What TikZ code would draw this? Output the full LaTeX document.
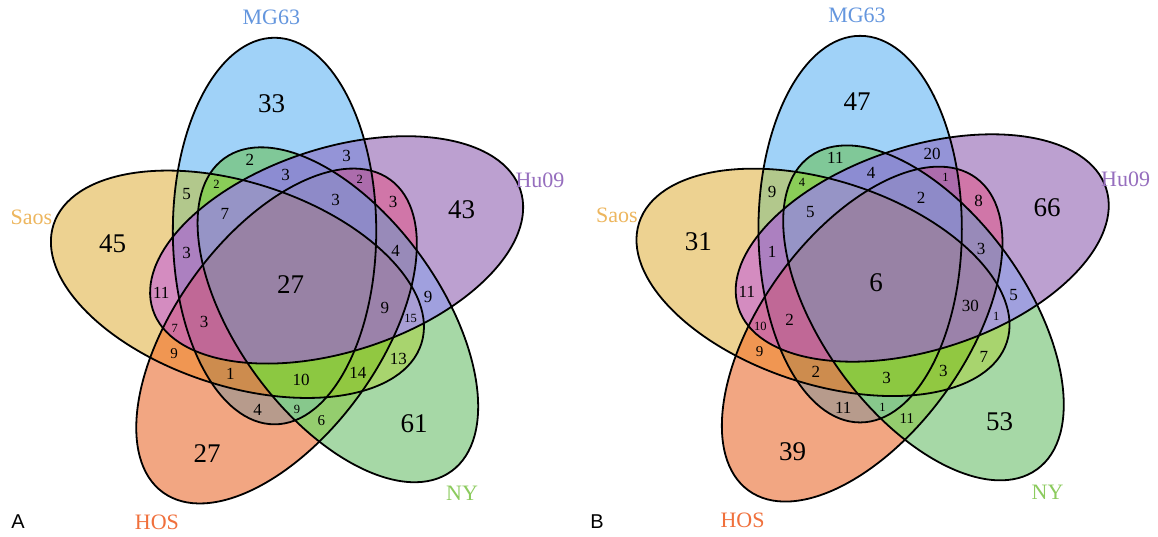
\documentclass[tikz,border=0pt]{standalone}
\usepackage{fontspec}
\setmainfont{Liberation Serif}
\newfontfamily\panelfont{Liberation Sans}
% label colours
\definecolor{tMG}{RGB}{100,150,222}
\definecolor{tSa}{RGB}{237,182,94}
\definecolor{tHu}{RGB}{150,110,190}
\definecolor{tHO}{RGB}{240,112,60}
\definecolor{tNY}{RGB}{140,203,94}
% region colours (M=MG63, S=Saos, U=Hu09, H=HOS, N=NY)
\definecolor{rM}{RGB}{160,210,248}
\definecolor{rS}{RGB}{237,210,145}
\definecolor{rU}{RGB}{188,160,208}
\definecolor{rH}{RGB}{242,166,130}
\definecolor{rN}{RGB}{166,216,166}
\definecolor{rMN}{RGB}{128,200,152}
\definecolor{rMU}{RGB}{148,148,215}
\definecolor{rMS}{RGB}{178,200,140}
\definecolor{rHU}{RGB}{208,118,168}
\definecolor{rSU}{RGB}{212,140,192}
\definecolor{rNU}{RGB}{160,160,222}
\definecolor{rSH}{RGB}{240,150,82}
\definecolor{rSN}{RGB}{168,212,110}
\definecolor{rMH}{RGB}{183,155,140}
\definecolor{rHN}{RGB}{148,205,110}
\definecolor{rMSN}{RGB}{138,205,88}
\definecolor{rMNU}{RGB}{140,140,210}
\definecolor{rMHU}{RGB}{172,108,172}
\definecolor{rHNU}{RGB}{152,138,185}
\definecolor{rMSU}{RGB}{172,128,192}
\definecolor{rSNU}{RGB}{168,158,212}
\definecolor{rSHU}{RGB}{208,112,158}
\definecolor{rMSH}{RGB}{205,140,78}
\definecolor{rSHN}{RGB}{145,200,65}
\definecolor{rMHN}{RGB}{135,200,140}
\definecolor{rMSNU}{RGB}{150,148,198}
\definecolor{rMHNU}{RGB}{142,138,200}
\definecolor{rSHNU}{RGB}{155,130,170}
\definecolor{rMSHU}{RGB}{192,104,150}
\definecolor{rMSHN}{RGB}{140,200,65}
\definecolor{rAll}{RGB}{152,130,165}
\tikzset{
  setline/.style={draw=black, line width=1.8pt, fill=none},
  big/.style={font=\fontsize{27}{27}\selectfont, inner sep=0pt},
  med/.style={font=\fontsize{17}{17}\selectfont, inner sep=0pt},
  msm/.style={font=\fontsize{15}{15}\selectfont, inner sep=0pt},
  sml/.style={font=\fontsize{12.5}{12.5}\selectfont, inner sep=0pt},
  setlabel/.style={font=\fontsize{22}{22}\selectfont, inner sep=0pt, text=#1},
  panellabel/.style={font=\panelfont\fontsize{20}{20}\selectfont, inner sep=0pt, text=black},
}
% the five ellipses, relative to a panel centre
\def\eM{(109.1:55.2) circle [x radius=193.3, y radius=101.7, rotate=90]}
\def\eU{(37.1:55.2) circle [x radius=193.3, y radius=101.7, rotate=18]}
\def\eN{(325.1:55.2) circle [x radius=193.3, y radius=101.7, rotate=306]}
\def\eH{(253.1:55.2) circle [x radius=193.3, y radius=101.7, rotate=234]}
\def\eS{(181.1:55.2) circle [x radius=193.3, y radius=101.7, rotate=162]}
\newcommand\regtwo[3]{\begin{scope}\clip #2;\fill[#1] #3;\end{scope}}
\newcommand\regthree[4]{\begin{scope}\clip #2;\clip #3;\fill[#1] #4;\end{scope}}
\newcommand\regfour[5]{\begin{scope}\clip #2;\clip #3;\clip #4;\fill[#1] #5;\end{scope}}
\newcommand\regfive[6]{\begin{scope}\clip #2;\clip #3;\clip #4;\clip #5;\fill[#1] #6;\end{scope}}
\begin{document}
\begin{tikzpicture}[x=1pt,y=1pt]
\useasboundingbox (0,0) rectangle (1158,-537);
\fill[white] (0,0) rectangle (1158,-537);
\coordinate (CA) at (292.6,-283.2);
\coordinate (CB) at (878.2,-281.3);
\foreach \P in {CA,CB}{
  \begin{scope}[shift={(\P)}]
    % singles
    \fill[rM] \eM; \fill[rS] \eS; \fill[rU] \eU; \fill[rH] \eH; \fill[rN] \eN;
    % pairs
    \regtwo{rMN}{\eM}{\eN}
    \regtwo{rMU}{\eM}{\eU}
    \regtwo{rMS}{\eM}{\eS}
    \regtwo{rHU}{\eH}{\eU}
    \regtwo{rSU}{\eS}{\eU}
    \regtwo{rNU}{\eN}{\eU}
    \regtwo{rSH}{\eS}{\eH}
    \regtwo{rSN}{\eS}{\eN}
    \regtwo{rMH}{\eM}{\eH}
    \regtwo{rHN}{\eH}{\eN}
    % triples
    \regthree{rMSN}{\eM}{\eS}{\eN}
    \regthree{rMNU}{\eM}{\eN}{\eU}
    \regthree{rMHU}{\eM}{\eH}{\eU}
    \regthree{rHNU}{\eH}{\eN}{\eU}
    \regthree{rMSU}{\eM}{\eS}{\eU}
    \regthree{rSNU}{\eS}{\eN}{\eU}
    \regthree{rSHU}{\eS}{\eH}{\eU}
    \regthree{rMSH}{\eM}{\eS}{\eH}
    \regthree{rSHN}{\eS}{\eH}{\eN}
    \regthree{rMHN}{\eM}{\eH}{\eN}
    % quadruples
    \regfour{rMSNU}{\eM}{\eS}{\eN}{\eU}
    \regfour{rMHNU}{\eM}{\eH}{\eN}{\eU}
    \regfour{rSHNU}{\eS}{\eH}{\eN}{\eU}
    \regfour{rMSHU}{\eM}{\eS}{\eH}{\eU}
    \regfour{rMSHN}{\eM}{\eS}{\eH}{\eN}
    % all five
    \regfive{rAll}{\eM}{\eS}{\eH}{\eN}{\eU}
    % outlines
    \draw[setline] \eM; \draw[setline] \eS; \draw[setline] \eH;
    \draw[setline] \eN; \draw[setline] \eU;
  \end{scope}
}
% region counts
\foreach \n/\x/\y/\st/\va/\vb in {
  1/-21.1/179.9/big/33/47,
  2/-179.9/39.9/big/45/31,
  3/169/73.2/big/43/66,
  4/-85.6/-170.8/big/27/39,
  5/121.4/-140.8/big/61/53,
  6/-2.1/-1.8/big/27/6,
  7/-42.8/123.2/med/2/11,
  8/53.9/127.4/med/3/20,
  9/-76.1/99.2/sml/2/4,
  10/-7/108.2/med/3/4,
  11/67.2/104.2/sml/2/1,
  12/-106.1/89.2/med/5/9,
  13/-67.8/69.2/med/7/5,
  14/43/83.2/med/3/2,
  15/100.4/80.8/med/3/8,
  16/103/32.4/med/4/3,
  17/-106.1/29.9/med/3/1,
  18/-131.3/-10.1/med/11/11,
  19/92.2/-25.1/med/9/30,
  20/135.4/-14.2/med/9/5,
  21/118/-35.1/sml/15/1,
  22/-117.8/-45.1/sml/7/10,
  23/-88.6/-38.4/med/3/2,
  24/-118.6/-70.8/msm/9/9,
  25/105.7/-75.4/med/13/7,
  26/-62.3/-90.4/med/1/2,
  27/8.4/-96.6/med/10/3,
  28/65.2/-90.1/med/14/3,
  29/-35/-126.6/med/4/11,
  30/4.3/-125.9/sml/9/1,
  31/28.7/-137.6/msm/6/11}{
  \node[\st] (A-\n) at ([shift={(\x,\y)}]CA) {\va};
  \node[\st] (B-\n) at ([shift={(\x,\y)}]CB) {\vb};
}
% set labels
\foreach \P in {A,B}{
  \node[setlabel=tMG] (\P-MG63) at ([shift={(-21.2,265.8)}]C\P) {MG63};
  \node[setlabel=tSa] (\P-Saos) at ([shift={(-261.2,65.8)}]C\P) {Saos};
  \node[setlabel=tHu] (\P-Hu09) at ([shift={(247.4,102.5)}]C\P) {Hu09};
  \node[setlabel=tHO] (\P-HOS) at ([shift={(-135.7,-239.2)}]C\P) {HOS};
  \node[setlabel=tNY] (\P-NY) at ([shift={(169.4,-210.5)}]C\P) {NY};
}
\node[panellabel] (panelA) at (18,-522) {A};
\node[panellabel] (panelB) at (597,-522) {B};
\end{tikzpicture}
\end{document}
